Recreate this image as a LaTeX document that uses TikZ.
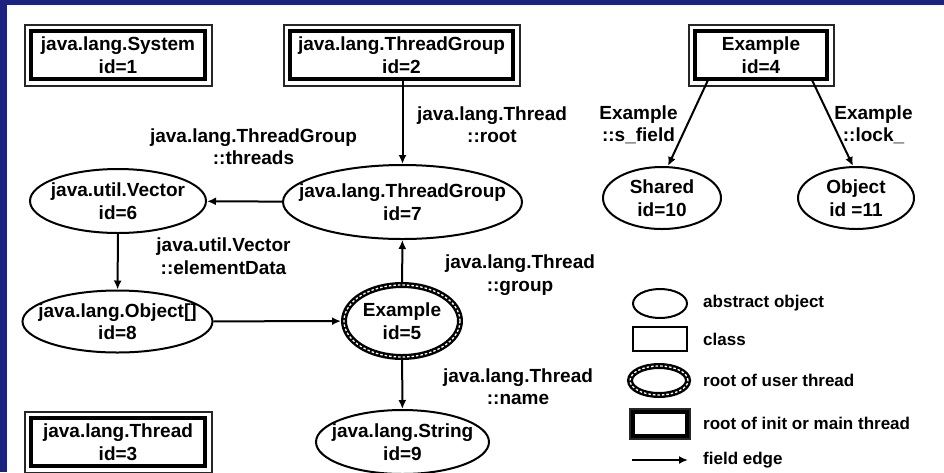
\documentclass[tikz,border=0pt]{standalone}
\usepackage{fontspec}
\setmainfont{Liberation Sans}
\usetikzlibrary{arrows.meta,shapes.geometric}
\definecolor{framenavy}{RGB}{28,34,128}

\begin{document}
\begin{tikzpicture}[x=1pt,y=-1pt,
  txt/.style={font=\bfseries\fontsize{19}{22.5}\selectfont, align=center, inner sep=0pt},
  legtxt/.style={font=\bfseries\fontsize{17}{20}\selectfont, anchor=west, inner sep=0pt},
  % class object that roots the init or main thread: thick inner frame plus a thin outer frame
  initbox/.style={rectangle, draw, line width=3.5pt, inner sep=0pt, outer sep=0pt, txt,
    append after command={\pgfextra{\draw[line width=2pt, draw=black!85]
      ([shift={(-#1,-#1)}]\tikzlastnode.north west) rectangle
      ([shift={(#1,#1)}]\tikzlastnode.south east);}}},
  objell/.style={ellipse, draw, line width=2pt, inner sep=0pt},
  userell/.style={ellipse, draw, line width=6pt, inner sep=0pt,
    postaction={draw=white, line width=1.3pt, dash pattern=on 2.5pt off 2pt}},
  classbox/.style={rectangle, draw, line width=1.8pt, inner sep=0pt},
  fieldedge/.style={draw, line width=2pt, -{Latex[length=9pt,width=8pt]}}
]
\useasboundingbox (0,0) rectangle (944,472);
\fill[white] (0,0) rectangle (944,472);
\fill[framenavy] (0,0) rectangle (944,5);
\fill[framenavy] (0,0) rectangle (7,472);

% roots of the init / main thread
\node[initbox=6.5, minimum width=174pt, minimum height=48pt] (sys) at (118,55) {java.lang.System\\id=1};
\node[initbox=6.5, minimum width=223pt, minimum height=48pt] (tg2) at (401.5,55) {java.lang.ThreadGroup\\id=2};
\node[initbox=6.5, minimum width=132pt, minimum height=48pt] (ex4) at (761,55) {Example\\id=4};
\node[initbox=6.5, minimum width=174pt, minimum height=48pt] (th3) at (118,442) {java.lang.Thread\\id=3};

% abstract objects
\node[objell, minimum width=239pt, minimum height=74pt, label={[txt]center:{java.lang.ThreadGroup\\id=7}}] (tg7) at (402.5,202) {};
\node[objell, minimum width=176pt, minimum height=64pt, label={[txt]center:{java.util.Vector\\id=6}}] (v6) at (118,201) {};
\node[objell, minimum width=190pt, minimum height=62pt, label={[txt]center:{java.lang.Object[]\\id=8}}] (o8) at (117.5,321.5) {};
\node[userell, minimum width=116pt, minimum height=72pt, label={[txt]center:{Example\\id=5}}] (ex5) at (402,321) {};
\node[objell, minimum width=173pt, minimum height=64pt, label={[txt]center:{java.lang.String\\id=9}}] (s9) at (402.5,442) {};
\node[objell, minimum width=118pt, minimum height=62pt, label={[txt]center:{Shared\\id=10}}] (sh10) at (662,198) {};
\node[objell, minimum width=116pt, minimum height=62pt, label={[txt]center:{Object\\id =11}}] (ob11) at (856,198) {};

% field edges
\draw[fieldedge] (tg2.south -| tg7.north) -- (tg7.north);
\draw[fieldedge] (tg7) -- (v6);
\draw[fieldedge] (v6) -- (o8);
\draw[fieldedge] (o8) -- (ex5);
\draw[fieldedge] (ex5) -- (tg7);
\draw[fieldedge] (ex5) -- (s9);
\draw[fieldedge] ([xshift=-52.5]ex4.south) -- ([xshift=6]sh10.north);
\draw[fieldedge] ([xshift=50.5]ex4.south) -- ([xshift=-3]ob11.north);

% field names
\node[txt] (lroot) at (492,124.5) {java.lang.Thread\\::root};
\node[txt] (lthreads) at (253.5,146.5) {java.lang.ThreadGroup\\::threads};
\node[txt] (lelem) at (223.5,256) {java.util.Vector\\::elementData};
\node[txt] (lgroup) at (520,275) {java.lang.Thread\\::group};
\node[txt] (lname) at (518,386.5) {java.lang.Thread\\::name};
\node[txt] (lsfield) at (638.5,125) {Example\\::s\_field};
\node[txt] (llock) at (873.5,125) {Example\\::lock\_};

% legend
\node[objell, minimum width=54pt, minimum height=29pt] (legobj) at (660,303.5) {};
\node[classbox, minimum width=54pt, minimum height=24pt] (legcls) at (660,339) {};
\node[userell, minimum width=58pt, minimum height=29pt] (leguser) at (659,380.5) {};
\node[initbox=3, minimum width=54pt, minimum height=24pt] (leginit) at (660,424) {};
\coordinate (legA) at (632,460);
\coordinate (legB) at (688,460);
\draw[fieldedge] (legA) -- (legB);
\node[legtxt] (tobj) at (703,303) {abstract object};
\node[legtxt] (tcls) at (703,339) {class};
\node[legtxt] (tuser) at (703,380) {root of user thread};
\node[legtxt] (tinit) at (703,423) {root of init or main thread};
\node[legtxt] (tedge) at (703,460) {field edge};
\end{tikzpicture}
\end{document}
